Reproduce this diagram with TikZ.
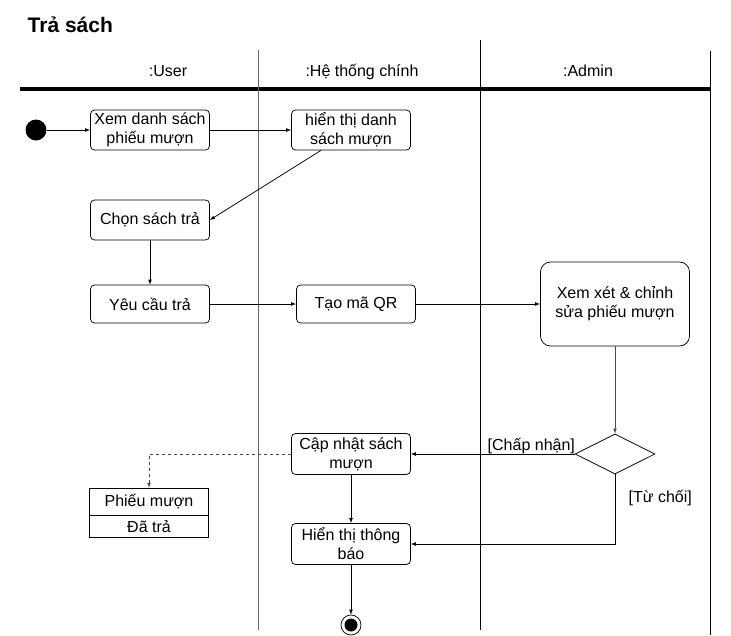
\documentclass[tikz,border=0pt]{standalone}
\usepackage{fontspec}
\setmainfont{Liberation Sans}
\usetikzlibrary{arrows,shapes,calc}
\tikzset{>=latex}
\tikzset{
  act/.style={draw,rounded corners=4,minimum width=119,minimum height=40,align=center,inner sep=1,font=\fontsize{16}{19}\selectfont},
  lane/.style={draw,line width=0.8},
  lbl/.style={font=\fontsize{16}{19}\selectfont}
}

\begin{document}
\begin{tikzpicture}[x=1pt,y=-1pt,line width=0.75pt]
    \useasboundingbox (0,0) rectangle (731,635);

    % lanes
    \node[anchor=west,font=\bfseries\fontsize{21}{24}\selectfont] (title) at (24,25) {Trả sách};
    \draw[line width=4] (20,89)--(710,89);
    \draw[lane,gray!80!black] (258,50)--(258,630);
    \draw[lane] (480,40)--(480,630);
    \draw[lane] (710,51)--(710,635);
    \node[lbl,anchor=base] (hUser) at (168,76) {:User};
    \node[lbl,anchor=base] (hSys) at (362,76) {:Hệ thống chính};
    \node[lbl,anchor=base] (hAdmin) at (588,76) {:Admin};

    % nodes
    \node[circle,fill=black,minimum size=21,inner sep=0] (start) at (36,130) {};
    \node[act] (xemDS) at (150,130) {Xem danh sách\\phiếu mượn};
    \node[act] (hienDS) at (351,130) {hiển thị danh\\sách mượn};
    \node[act] (chon) at (150,220) {Chọn sách trả};
    \node[act,minimum height=38] (yeuCau) at (150,304) {Yêu cầu trả};
    \node[act,minimum height=38] (taoQR) at (356,304) {Tạo mã QR};
    \node[act,rounded corners=10,minimum width=149,minimum height=84] (xemXet) at (615,304) {Xem xét \& chỉnh\\sửa phiếu mượn};
    \node[diamond,draw,aspect=2,minimum width=80,minimum height=40,inner sep=0] (chk) at (615,454) {};
    \node[act,minimum height=41] (capNhat) at (351,454) {Cập nhật sách\\mượn};
    \node[act,minimum height=41] (hienTB) at (351,544) {Hiển thị thông\\báo};
    \node[draw,rectangle split,rectangle split parts=2,minimum width=119,inner xsep=1,inner ysep=5,text height=13,text depth=3,align=center,font=\fontsize{16}{17}\selectfont] (phieu) at (149,513) {Phiếu mượn\nodepart{two}Đã trả};
    \node[circle,draw,minimum size=20,inner sep=0] (end) at (351,625) {};
    \node[circle,fill=black,minimum size=13,inner sep=0] at (end) {};

    % flows
    \draw[->](start)--(xemDS);
    \draw[->](xemDS)--(hienDS);
    \draw[->]($(hienDS.south)+(-30,0)$)--(chon.east);
    \draw[->](chon)--(yeuCau);
    \draw[->](yeuCau)--(taoQR);
    \draw[->](taoQR)--(xemXet);
    \draw[->,gray!60!black](xemXet)--(chk);
    \draw[->](chk.west)--(capNhat.east) node[pos=0,above left=-4pt,lbl]{[Chấp nhận]};
    \draw[->](chk.south)|-(hienTB.east) node[pos=0.17,right=10pt,lbl]{[Từ chối]};
    \draw[->,dashed,gray!60!black](capNhat.west)-|(phieu.north);
    \draw[->](capNhat)--(hienTB);
    \draw[->](hienTB)--(end);
  \end{tikzpicture}
\end{document}
